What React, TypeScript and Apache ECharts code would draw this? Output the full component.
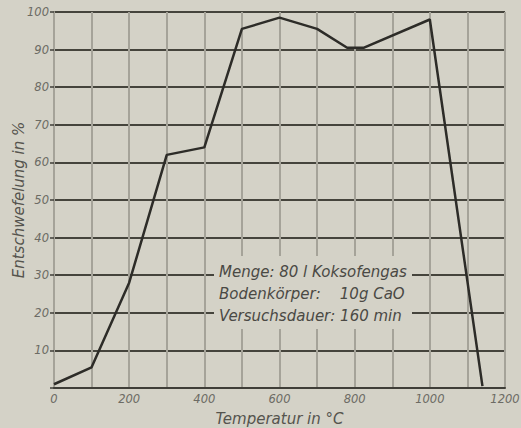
import React, { useEffect, useRef } from "react";
import * as echarts from "echarts";

const temperatures = [0, 100, 200, 300, 400, 500, 600, 700, 780, 825, 1000, 1140];
const desulfurization = [1, 5.5, 28, 62, 64, 95.5, 98.5, 95.5, 90.5, 90.5, 98, 0.5];
const xTickLabels = ["0", "200", "400", "600", "800", "1000", "1200"];
const yTickLabels = ["10", "20", "30", "40", "50", "60", "70", "80", "90", "100"];
const noteLines = [
  "Menge: 80 l Koksofengas",
  "Bodenkörper:    10g CaO",
  "Versuchsdauer: 160 min",
];

const BG = "#d4d2c7";
const FONT = "'DejaVu Sans', sans-serif";

export default function App() {
  const ref = useRef<HTMLDivElement>(null);
  useEffect(() => {
    document.body.style.margin = "0";
    const chart = echarts.init(ref.current!, null, { renderer: "svg" });
    const data = temperatures.map((t, i) => [t, desulfurization[i]]);
    chart.setOption({
      animation: false,
      backgroundColor: BG,
      grid: {
        left: 54,
        right: 16,
        top: 12,
        bottom: 40,
        show: false,
        containLabel: false,
        outerBoundsMode: "none",
      },
      xAxis: {
        type: "value",
        min: 0,
        max: 1200,
        interval: 100,
        name: "Temperatur in °C",
        nameLocation: "middle",
        nameGap: 23,
        nameMoveOverlap: false,
        nameTextStyle: { fontFamily: FONT, fontStyle: "italic", fontSize: 15, color: "#55544e" },
        axisLine: { show: true, lineStyle: { color: "#3f3e38", width: 2 } },
        axisTick: { show: false },
        axisLabel: {
          margin: 5,
          fontFamily: FONT,
          fontStyle: "italic",
          fontSize: 11.5,
          color: "#6c6b64",
          formatter: (v: number) => (xTickLabels.includes(String(v)) ? String(v) : ""),
        },
        splitLine: { show: true, lineStyle: { color: "#a5a399", width: 2 } },
      },
      yAxis: {
        type: "value",
        min: 0,
        max: 100,
        interval: 10,
        name: "Entschwefelung in %",
        nameLocation: "middle",
        nameGap: 28,
        nameMoveOverlap: false,
        nameTextStyle: { fontFamily: FONT, fontStyle: "italic", fontSize: 15, color: "#55544e" },
        axisLine: { show: true, lineStyle: { color: "#a5a399", width: 2 } },
        axisTick: { show: true, length: 4, lineStyle: { color: "#3f3e38", width: 1.5 } },
        axisLabel: {
          margin: 5,
          fontFamily: FONT,
          fontStyle: "italic",
          fontSize: 11.5,
          color: "#6c6b64",
          formatter: (v: number) => (yTickLabels.includes(String(v)) ? String(v) : ""),
        },
        splitLine: { show: true, lineStyle: { color: "#45443c", width: 1.8 } },
      },
      graphic: [
        {
          type: "rect",
          z: 1,
          shape: { x: 214, y: 256, width: 198, height: 73 },
          style: { fill: BG },
        },
        ...noteLines.map((t, i) => ({
          type: "text",
          z: 2,
          x: 219,
          y: 272 + i * 22,
          style: {
            text: t,
            fontFamily: FONT,
            fontStyle: "italic",
            fontSize: 15,
            fill: "#4a4944",
            textVerticalAlign: "middle",
            verticalAlign: "middle",
          },
        })),
      ],
      series: [
        {
          type: "line",
          data,
          z: 5,
          symbol: "none",
          lineStyle: { color: "#2d2c28", width: 2.5 },
        },
      ],
    });
    return () => chart.dispose();
  }, []);
  return (
    <div
      ref={ref}
      style={{ position: "fixed", left: 0, top: 0, width: 521, height: 428 }}
    />
  );
}
